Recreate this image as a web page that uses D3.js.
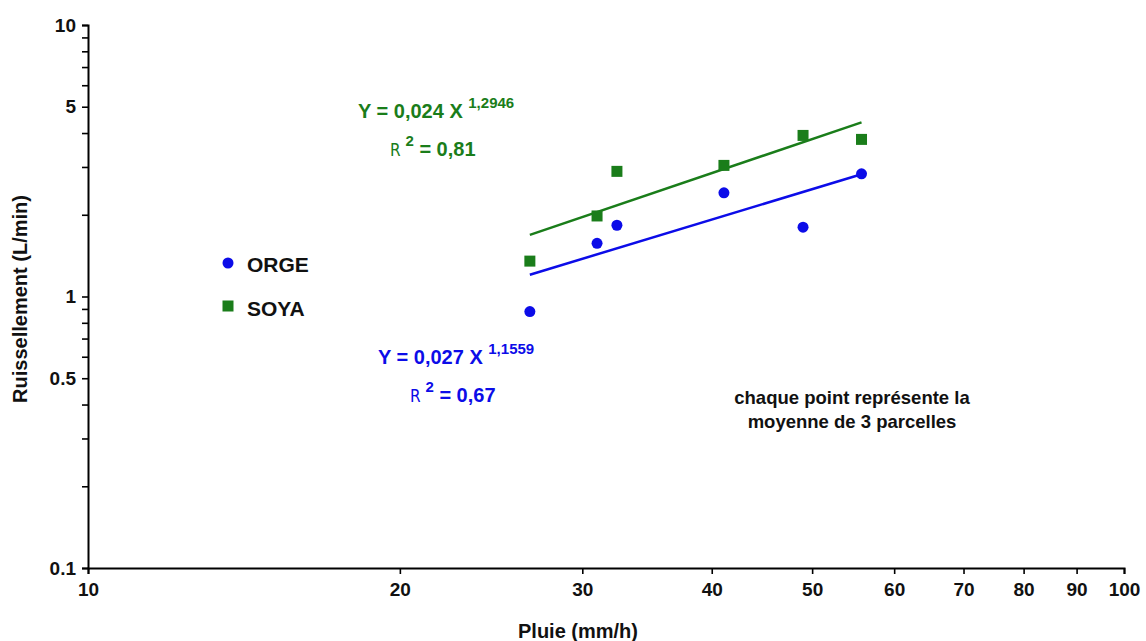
<!DOCTYPE html>
<html><head><meta charset="utf-8">
<script src="https://cdn.jsdelivr.net/npm/d3@7"></script>
<style>
html,body{margin:0;padding:0;background:#fff;}
text{font-family:Arial,"Liberation Sans",sans-serif;font-weight:bold;}
</style></head>
<body><svg id="c" width="1146" height="641"></svg>
<script>
// ---- data ----
const pluieOrge = [26.7, 31.0, 32.4, 41.1, 49.0, 55.8];
const ruissOrge = [0.88, 1.57, 1.83, 2.41, 1.80, 2.83];
const pluieSoya = [26.7, 31.0, 32.4, 41.1, 49.0, 55.8];
const ruissSoya = [1.35, 1.98, 2.89, 3.04, 3.92, 3.79];
const fitOrge = [0.027, 1.1559]; // Y = a X^b
const fitSoya = [0.024, 1.2946];
const xTickValues = [10, 20, 30, 40, 50, 60, 70, 80, 90, 100];
const yTickValues = [0.1,0.2,0.3,0.4,0.5,0.6,0.7,0.8,0.9,1,2,3,4,5,6,7,8,9,10];
const yTickLabels = [0.1, 0.5, 1, 5, 10];
const seriesNames = ["ORGE", "SOYA"];

const blue = "#0c0ce8", green = "#1a7d1a";
const svg = d3.select("#c");
const x = d3.scaleLog().domain([10, 100]).range([88, 1124]);
const y = d3.scaleLog().domain([0.1, 10]).range([568, 25]);

// axes
const gx = svg.append("g").attr("transform", "translate(0,568)")
  .call(d3.axisBottom(x).tickValues(xTickValues).tickFormat(d3.format("d")).tickSizeOuter(0).tickSize(6).tickPadding(9));
const gy = svg.append("g").attr("transform", "translate(88,0)")
  .call(d3.axisLeft(y).tickValues(yTickValues)
    .tickFormat(d => yTickLabels.includes(d) ? String(d) : "").tickSizeOuter(0).tickSize(6).tickPadding(6));
[gx, gy].forEach(g => {
  g.select(".domain").attr("stroke", "#000").attr("stroke-width", 2);
  g.selectAll(".tick line").attr("stroke", "#000").attr("stroke-width", 1.6);
  g.selectAll(".tick text").attr("fill", "#111").style("font-size", "19px");
});

// axis titles
svg.append("text").attr("x", 578).attr("y", 638).attr("text-anchor", "middle")
  .style("font-size", "20px").attr("fill", "#111").text("Pluie (mm/h)");
svg.append("text").attr("transform", "translate(27,299) rotate(-90)").attr("text-anchor", "middle")
  .style("font-size", "20px").attr("fill", "#111").text("Ruissellement (L/min)");

// trend lines
function fitLine(fit, xs, color) {
  const ext = d3.extent(xs);
  const pts = ext.map(v => [x(v), y(fit[0] * Math.pow(v, fit[1]))]);
  svg.append("path").attr("d", d3.line()(pts)).attr("stroke", color).attr("stroke-width", 2.5).attr("fill", "none");
}
fitLine(fitSoya, pluieSoya, green);
fitLine(fitOrge, pluieOrge, blue);

// points
svg.append("g").selectAll("rect").data(d3.zip(pluieSoya, ruissSoya)).join("rect")
  .attr("x", d => x(d[0]) - 5.5).attr("y", d => y(d[1]) - 5.5).attr("width", 11).attr("height", 11).attr("fill", green);
svg.append("g").selectAll("circle").data(d3.zip(pluieOrge, ruissOrge)).join("circle")
  .attr("cx", d => x(d[0])).attr("cy", d => y(d[1])).attr("r", 5.5).attr("fill", blue);

// legend
svg.append("circle").attr("cx", 228).attr("cy", 263).attr("r", 5.5).attr("fill", blue);
svg.append("rect").attr("x", 222.5).attr("y", 300.5).attr("width", 11).attr("height", 11).attr("fill", green);
svg.append("text").attr("x", 247).attr("y", 272).style("font-size", "21px").attr("fill", "#111").text(seriesNames[0]);
svg.append("text").attr("x", 247).attr("y", 316).style("font-size", "21px").attr("fill", "#111").text(seriesNames[1]);

// equations
function eq(xPos, yPos, fit, r2, color) {
  const t = svg.append("text").attr("x", xPos).attr("y", yPos).attr("fill", color).style("font-size", "20px");
  t.append("tspan").text("Y = " + String(fit[0]).replace(".", ",") + " X ");
  t.append("tspan").attr("dy", -10).style("font-size", "15px").text(String(fit[1]).replace(".", ","));
  const t2 = svg.append("text").attr("x", xPos + 32).attr("y", yPos + 38).attr("fill", color).style("font-size", "20px");
  t2.append("tspan").style("font-weight", "normal").style("font-family", "'DejaVu Sans Condensed','DejaVu Sans',sans-serif").style("font-size", "17px").text("R ");
  t2.append("tspan").attr("dy", -10).style("font-size", "15px").text("2");
  t2.append("tspan").attr("dy", 10).text(" = " + r2);
}
eq(358, 118, fitSoya, "0,81", green);
eq(378, 364, fitOrge, "0,67", blue);

// note
svg.append("text").attr("x", 852).attr("y", 404).attr("text-anchor", "middle").style("font-size", "18.5px").attr("fill", "#111").text("chaque point représente la");
svg.append("text").attr("x", 852).attr("y", 428).attr("text-anchor", "middle").style("font-size", "18.5px").attr("fill", "#111").text("moyenne de 3 parcelles");
</script></body></html>
